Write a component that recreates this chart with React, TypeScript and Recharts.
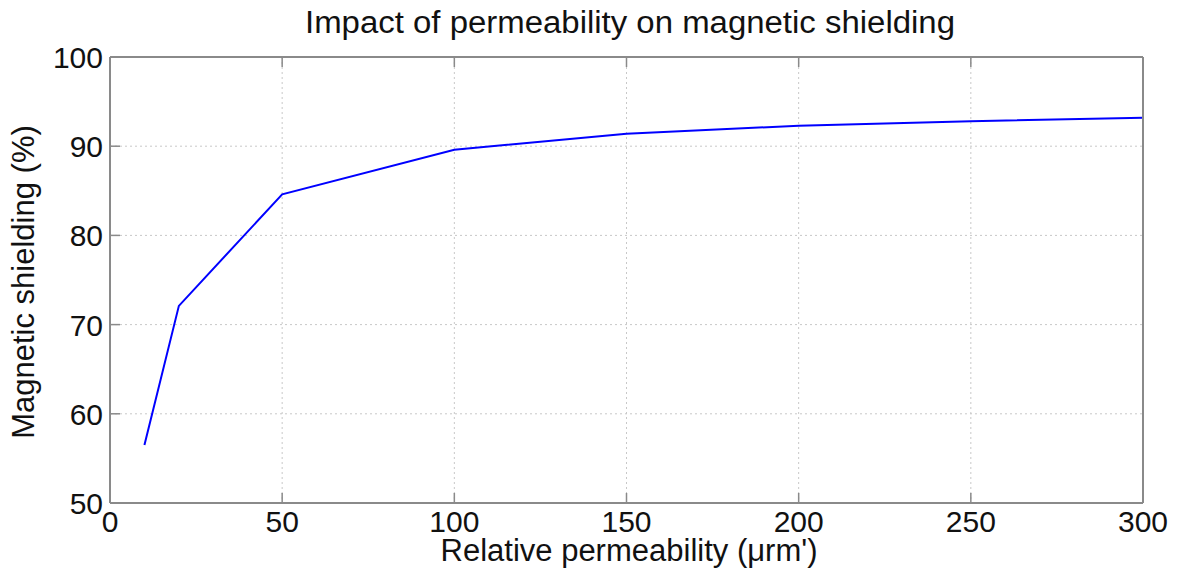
import React from 'react';
import {
  LineChart, Line, XAxis, YAxis, CartesianGrid,
} from 'recharts';

const permeability = [10, 20, 50, 100, 150, 200, 250, 300];
const shielding = [56.5, 72.1, 84.6, 89.6, 91.4, 92.3, 92.8, 93.2];
const xTicks = [0, 50, 100, 150, 200, 250, 300];
const yTicks = [50, 60, 70, 80, 90, 100];

const data = permeability.map((p, i) => ({ p, s: shielding[i] }));

const FONT = '"Liberation Sans", Arial, sans-serif';
const AXIS = '#8a8a8a';
const TICK_LEN = 10;

function BottomTick(props: any) {
  const { x, y, payload } = props;
  return (
    <g>
      <line x1={x} y1={y} x2={x} y2={y - TICK_LEN} stroke={AXIS} strokeWidth={1.5} />
      <text x={x} y={y + 29} textAnchor="middle" fontSize={30} fontFamily={FONT} fill="#111">
        {payload.value}
      </text>
    </g>
  );
}

function TopTick(props: any) {
  const { x, y } = props;
  return <line x1={x} y1={y} x2={x} y2={y + TICK_LEN} stroke={AXIS} strokeWidth={1.5} />;
}

function LeftTick(props: any) {
  const { x, y, payload } = props;
  return (
    <g>
      <line x1={x} y1={y} x2={x + TICK_LEN} y2={y} stroke={AXIS} strokeWidth={1.5} />
      <text x={x - 7} y={y + 11} textAnchor="end" fontSize={30} fontFamily={FONT} fill="#111">
        {payload.value}
      </text>
    </g>
  );
}

function RightTick(props: any) {
  const { x, y } = props;
  return <line x1={x} y1={y} x2={x - TICK_LEN} y2={y} stroke={AXIS} strokeWidth={1.5} />;
}

export default function App() {
  return (
    <div style={{ position: 'absolute', left: 0, top: 0, width: 1179, height: 571, background: '#fff' }}>
      <LineChart
        width={1179}
        height={571}
        data={data}
        margin={{ top: 56, right: 35, bottom: 28, left: 50 }}
      >
        <CartesianGrid
          xAxisId="b"
          yAxisId="l"
          stroke="#c8c8c8"
          strokeDasharray="2 3"
        />
        <XAxis
          xAxisId="b"
          dataKey="p"
          type="number"
          domain={[0, 300]}
          ticks={xTicks}
          height={40}
          tickSize={0}
          tickMargin={0}
          stroke={AXIS}
          strokeWidth={2}
          tick={<BottomTick />}
          tickLine={false}
          interval={0}
        />
        <XAxis
          xAxisId="t"
          orientation="top"
          dataKey="p"
          type="number"
          domain={[0, 300]}
          ticks={xTicks}
          height={1}
          tickSize={0}
          tickMargin={0}
          stroke={AXIS}
          strokeWidth={2}
          tick={<TopTick />}
          tickLine={false}
          interval={0}
        />
        <YAxis
          yAxisId="l"
          type="number"
          domain={[50, 100]}
          ticks={yTicks}
          width={60}
          tickSize={0}
          tickMargin={0}
          stroke={AXIS}
          strokeWidth={2}
          tick={<LeftTick />}
          tickLine={false}
          interval={0}
        />
        <YAxis
          yAxisId="r"
          orientation="right"
          type="number"
          domain={[50, 100]}
          ticks={yTicks}
          width={1}
          tickSize={0}
          tickMargin={0}
          stroke={AXIS}
          strokeWidth={2}
          tick={<RightTick />}
          tickLine={false}
          interval={0}
        />
        <Line
          xAxisId="b"
          yAxisId="l"
          type="linear"
          dataKey="s"
          stroke="#0000ff"
          strokeWidth={2}
          dot={false}
          isAnimationActive={false}
        />
      </LineChart>
      <svg
        width={1179}
        height={571}
        style={{ position: 'absolute', left: 0, top: 0, pointerEvents: 'none' }}
      >
        <text x={630} y={33} textAnchor="middle" fontSize={31} fontFamily={FONT} fill="#111"
          textLength={650} lengthAdjust="spacingAndGlyphs">
          Impact of permeability on magnetic shielding
        </text>
        <text x={629} y={561} textAnchor="middle" fontSize={31} fontFamily={FONT} fill="#111">
          Relative permeability ({'\u03bc'}rm')
        </text>
        <text x={34} y={282} textAnchor="middle" fontSize={31} fontFamily={FONT} fill="#111"
          transform="rotate(-90, 34, 282)">
          Magnetic shielding (%)
        </text>
      </svg>
    </div>
  );
}
